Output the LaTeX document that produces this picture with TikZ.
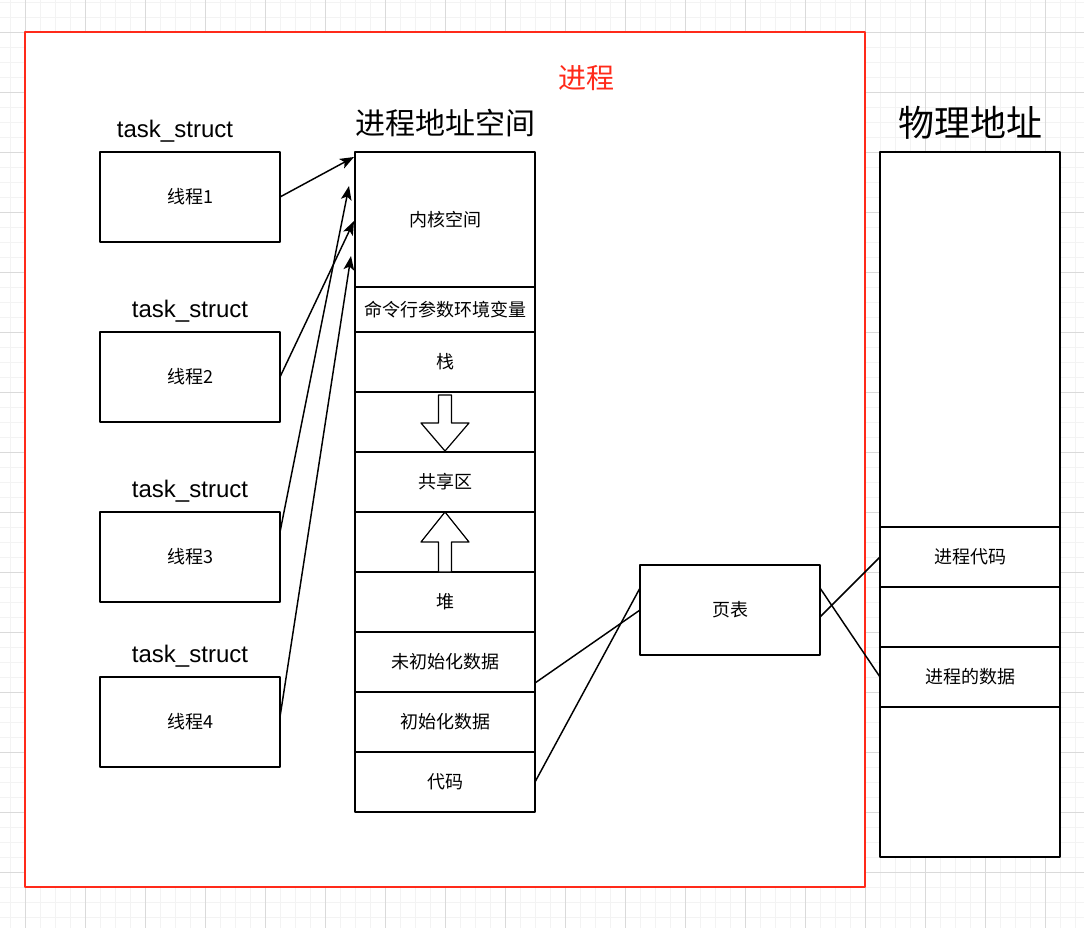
\documentclass[tikz,border=0pt]{standalone}
\usepackage{fontspec}
\setmainfont{Noto Sans CJK SC}
\newfontfamily\latinfont{Liberation Sans}
\usetikzlibrary{positioning,calc,arrows.meta}
\definecolor{procred}{HTML}{FF2A1A}
\definecolor{gridminor}{HTML}{F3F3F3}
\definecolor{gridmajor}{HTML}{DADADA}
\begin{document}
\begin{tikzpicture}[x=0.75pt, y=-0.75pt, line join=round, >={Stealth[length=10.5pt,width=8pt,inset=2.5pt]}]
\tikzset{
  cell/.style={draw, line width=1.1pt, fill=white, minimum width=135pt, minimum height=45pt, inner sep=0pt, outer sep=0pt, font=\fontsize{13.5pt}{16pt}\selectfont},
  thread/.style={cell, minimum height=67.5pt},
  tasklabel/.style={font=\latinfont\fontsize{18pt}{20pt}\selectfont, inner sep=0pt},
  title/.style={font=\fontsize{22.5pt}{26pt}\selectfont, inner sep=0pt},
  link/.style={line width=1.1pt},
  hollow/.style={draw, fill=white, line width=0.9pt}
}
\useasboundingbox (0,0) rectangle (1084,928);
% canvas grid
\foreach \x in {10,25,...,1084} \draw[gridminor, line width=0.75pt] (\x,0)--(\x,928);
\foreach \y in {2,17,...,928} \draw[gridminor, line width=0.75pt] (0,\y)--(1084,\y);
\foreach \x in {25,85,...,1084} \draw[gridmajor, line width=0.75pt] (\x,0)--(\x,928);
\foreach \y in {32,92,...,928} \draw[gridmajor, line width=0.75pt] (0,\y)--(1084,\y);
% process frame
\draw[procred, line width=1.1pt, fill=white] (25,32) rectangle (865,887);
\node[title, text=procred, font=\fontsize{21pt}{24pt}\selectfont] (proc) at (586,78) {进程};
% threads
\node[thread] (t1) at (190,197) {线程1};
\node[thread] (t2) at (190,377) {线程2};
\node[thread] (t3) at (190,557) {线程3};
\node[thread] (t4) at (190,722) {线程4};
\node[tasklabel] (ts1) at (175,131) {task\_struct};
\node[tasklabel] (ts2) at (190,311) {task\_struct};
\node[tasklabel] (ts3) at (190,491) {task\_struct};
\node[tasklabel] (ts4) at (190,656) {task\_struct};
% address space
\node[title] (vtitle) at (445,123) {进程地址空间};
\node[cell, minimum height=101.25pt] (kernel) at (445,219.5) {内核空间};
\node[cell, minimum height=33.75pt, below=0pt of kernel] (args) {命令行参数环境变量};
\node[cell, below=0pt of args] (stack) {栈};
\node[cell, below=0pt of stack] (down) {};
\node[cell, below=0pt of down] (shared) {共享区};
\node[cell, below=0pt of shared] (up) {};
\node[cell, below=0pt of up] (heap) {堆};
\node[cell, below=0pt of heap] (bss) {未初始化数据};
\node[cell, below=0pt of bss] (data) {初始化数据};
\node[cell, below=0pt of data] (code) {代码};
\draw[hollow] (438.5,395)--(451.5,395)--(451.5,423)--(469,423)--(445,451)--(421,423)--(438.5,423)--cycle;
\draw[hollow] (445,512)--(469,542)--(451.5,542)--(451.5,572)--(438.5,572)--(438.5,542)--(421,542)--cycle;
% page table
\node[thread] (pt) at (730,610) {页表};
% physical memory
\node[title, font=\fontsize{27pt}{30pt}\selectfont] (ptitle) at (970,123) {物理地址};
\node[cell, minimum height=528.75pt] (phys) at (970,504.5) {};
\node[cell] (pcode) at (970,557) {进程代码};
\node[cell] (pgap) at (970,617) {};
\node[cell] (pdata) at (970,677) {进程的数据};
% thread links
\coordinate (k1) at (354,157);
\coordinate (k2) at (349,186);
\coordinate (k3) at (354,221);
\coordinate (k4) at (351,256);
\draw[link,->] (t1.east) -- (k1);
\draw[link,->] (t2.east) -- (k3);
\draw[link,->] ($(t3.east)+(0,-25)$) -- (k2);
\draw[link,->] ($(t4.east)+(0,-5)$) -- (k4);
% mapping links
\draw[link] ($(bss.east)+(0,21)$) -- (pt.west);
\draw[link] (code.east) -- ($(pt.west)+(0,-22)$);
\draw[link] ($(pt.east)+(0,7)$) -- (pcode.west);
\draw[link] ($(pt.east)+(0,-22)$) -- (pdata.west);
\end{tikzpicture}
\end{document}
